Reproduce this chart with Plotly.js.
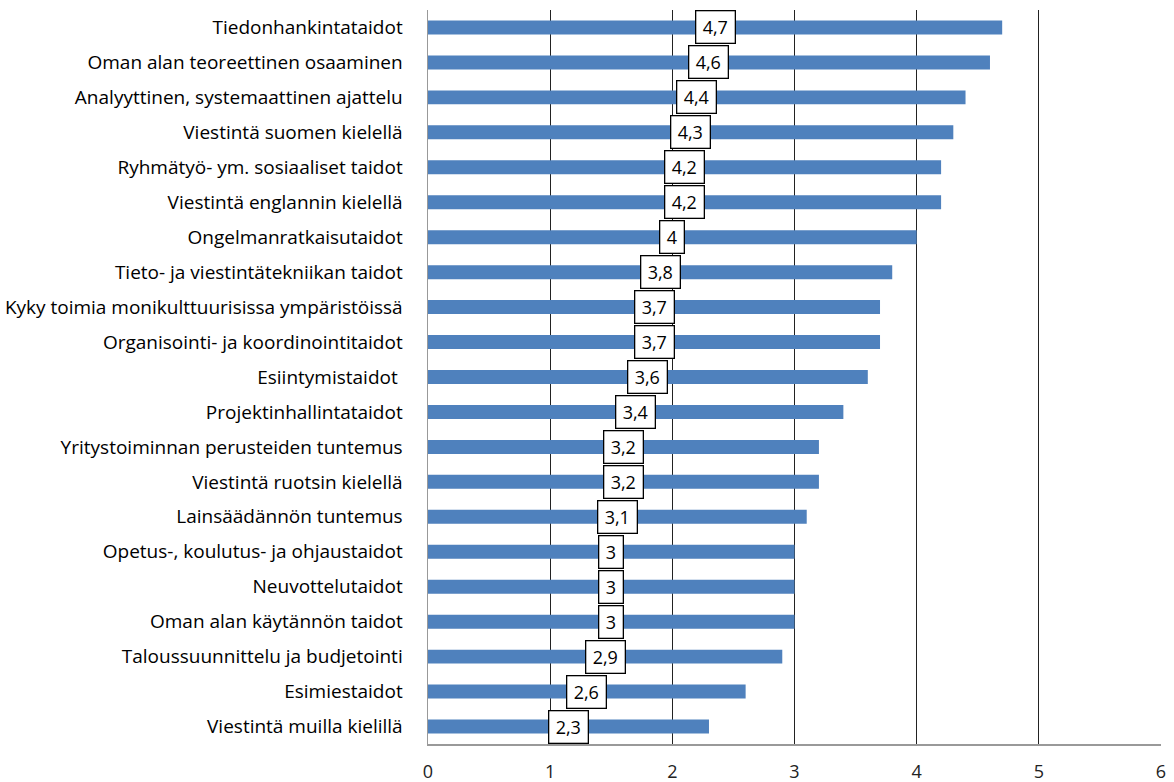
<!DOCTYPE html>
<html><head><meta charset="utf-8">
<script src="https://cdn.plot.ly/plotly-3.0.1.min.js"></script>
<style>html,body{margin:0;padding:0;background:#fff}#chart{width:1174px;height:782px}</style>
</head><body><div id="chart"></div>
<script>
const categories = [
  "Tiedonhankintataidot",
  "Oman alan teoreettinen osaaminen",
  "Analyyttinen, systemaattinen ajattelu",
  "Viestintä suomen kielellä",
  "Ryhmätyö- ym. sosiaaliset taidot",
  "Viestintä englannin kielellä",
  "Ongelmanratkaisutaidot",
  "Tieto- ja viestintätekniikan taidot",
  "Kyky toimia monikulttuurisissa ympäristöissä",
  "Organisointi- ja koordinointitaidot",
  "Esiintymistaidot ",
  "Projektinhallintataidot",
  "Yritystoiminnan perusteiden tuntemus",
  "Viestintä ruotsin kielellä",
  "Lainsäädännön tuntemus",
  "Opetus-, koulutus- ja ohjaustaidot",
  "Neuvottelutaidot",
  "Oman alan käytännön taidot",
  "Taloussuunnittelu ja budjetointi",
  "Esimiestaidot",
  "Viestintä muilla kielillä"
];
const values = [4.7,4.6,4.4,4.3,4.2,4.2,4.0,3.8,3.7,3.7,3.6,3.4,3.2,3.2,3.1,3.0,3.0,3.0,2.9,2.6,2.3];
const xTicks = [0,1,2,3,4,5,6];

const font = "'Open Sans', sans-serif";
const trace = {
  type: 'bar', orientation: 'h',
  x: values, y: categories,
  marker: {color: '#4F81BD'},
  width: 0.4,
  hoverinfo: 'none'
};
const annotations = values.map((v, i) => {
  const t = String(v).replace('.', ',');
  return {
    x: v / 2, y: categories[i], xref: 'x', yref: 'y',
    text: t,
    showarrow: false,
    width: t.length > 1 ? 34 : 19, height: 27,
    bgcolor: '#fff', bordercolor: '#000', borderwidth: 1.3, borderpad: 2,
    font: {family: font, size: 18, color: '#000'}
  };
});
const layout = {
  width: 1174, height: 782,
  margin: {l: 428, r: 13, t: 10, b: 38},
  paper_bgcolor: '#fff', plot_bgcolor: '#fff',
  showlegend: false,
  bargap: 0.6,
  xaxis: {
    range: [0, 6], tickvals: xTicks, ticktext: xTicks.map(String),
    showgrid: true, gridcolor: '#222', gridwidth: 1,
    zeroline: false, showline: true, linecolor: '#999', linewidth: 1.5,
    ticks: '', ticklabelstandoff: 11,
    tickfont: {family: font, size: 18, color: '#222'}
  },
  yaxis: {
    autorange: 'reversed', type: 'category',
    showgrid: false, zeroline: false, showline: true, linecolor: '#999', linewidth: 1.5,
    ticks: '', ticklabelstandoff: 20,
    tickfont: {family: font, size: 19, color: '#000'}
  },
  annotations: annotations
};
Plotly.newPlot('chart', [trace], layout, {displayModeBar: false, staticPlot: true});
</script></body></html>
